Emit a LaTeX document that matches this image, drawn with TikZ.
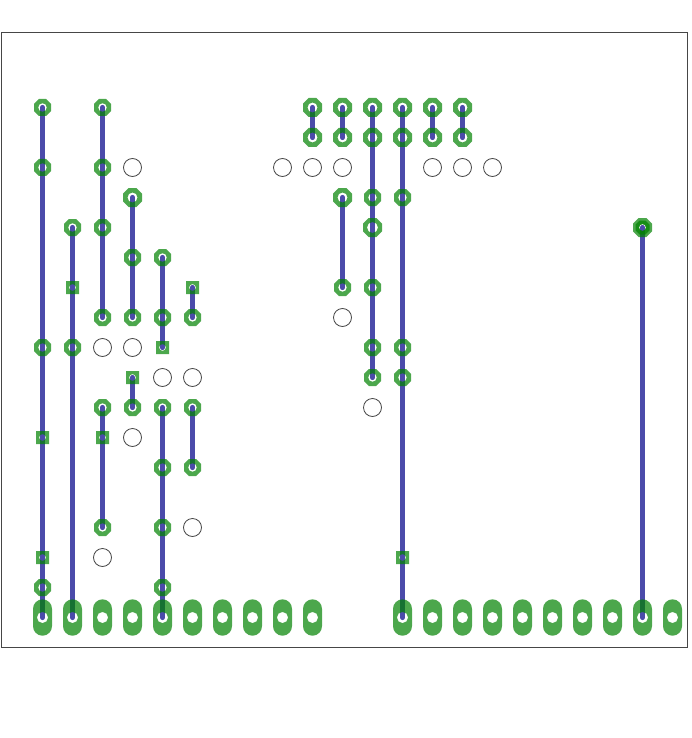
\documentclass[tikz,border=0pt]{standalone}
\definecolor{padgreen}{RGB}{0,130,0}
\definecolor{traceblue}{RGB}{75,75,170}
\definecolor{framegray}{RGB}{70,70,70}
\tikzset{
  x=1pt,y=-1pt,
  padfill/.style={fill=padgreen,fill opacity=.7,even odd rule,draw=none},
  trace/.style={draw=traceblue,line width=5.2pt,line cap=round},
  emptyhole/.style={draw=framegray,line width=.8pt,fill=none},
  frameline/.style={draw=framegray,line width=1pt}
}
% octagonal pad: x, y, across-flats half width, hole radius
\newcommand\octpad[4]{%
  \fill[padfill,shift={(#1,#2)}]
    (22.5:{#3*1.0824}) -- (67.5:{#3*1.0824}) -- (112.5:{#3*1.0824}) -- (157.5:{#3*1.0824})
    -- (202.5:{#3*1.0824}) -- (247.5:{#3*1.0824}) -- (292.5:{#3*1.0824}) -- (337.5:{#3*1.0824}) -- cycle
    (0,0) circle[radius=#4pt];}
\newcommand\sqpad[2]{%
  \fill[padfill,shift={(#1,#2)}] (-6.5,-6.5) rectangle (6.5,6.5) (0,0) circle[radius=3.4pt];}
\newcommand\longpad[2]{%
  \fill[padfill,shift={(#1,#2)}]
    (-9.5,-8.7) arc[start angle=180,end angle=0,radius=9.5pt]
    -- (9.5,8.7) arc[start angle=0,end angle=-180,radius=9.5pt] -- cycle
    (0,0) circle[radius=5.6pt];}
\newcommand\tracecol[3]{\coordinate (ta#1#2) at (#1,#2); \coordinate (tb#1#3) at (#1,#3); \draw[trace] (ta#1#2) -- (tb#1#3);}
\begin{document}
\begin{tikzpicture}
\useasboundingbox (0,0) rectangle (691,738);
\fill[white] (0,0) rectangle (691,738);
\begin{scope}[shift={(.5,.5)}]
\draw[frameline] (1,32) rectangle (687,647);
% traces
\tracecol{42}{107}{617}
\tracecol{72}{227}{617}
\tracecol{102}{107}{317}
\tracecol{102}{407}{527}
\tracecol{132}{197}{317}
\tracecol{132}{377}{407}
\tracecol{162}{257}{347}
\tracecol{162}{407}{617}
\tracecol{192}{287}{317}
\tracecol{192}{407}{467}
\tracecol{312}{107}{137}
\tracecol{342}{107}{137}
\tracecol{342}{197}{287}
\tracecol{372}{107}{377}
\tracecol{402}{107}{617}
\tracecol{432}{107}{137}
\tracecol{462}{107}{137}
\tracecol{642}{227}{617}
% empty holes
\foreach \x/\y in {132/167,282/167,312/167,342/167,432/167,462/167,492/167,342/317,102/347,132/347,162/377,192/377,372/407,132/437,192/527,102/557}
  \draw[emptyhole] (\x,\y) circle[radius=9pt];
% small octagonal pads
\foreach \x/\y in {42/107,102/107,42/167,102/167,72/227,102/227,132/257,162/257,102/317,132/317,162/317,192/317,42/347,72/347,102/407,132/407,162/407,192/407,162/467,192/467,102/527,162/527,42/587,162/587,372/197,402/197,372/347,402/347,342/287,372/287,372/377,402/377}
  \octpad{\x}{\y}{8.5}{4.3};
% larger octagonal pads
\foreach \x/\y in {312/107,342/107,372/107,402/107,432/107,462/107,312/137,342/137,372/137,402/137,432/137,462/137,132/197,342/197}
  \octpad{\x}{\y}{9.5}{5};
\octpad{372}{227}{9.5}{5.5}
\octpad{642}{227}{9.5}{3.5}
\octpad{642}{227}{7}{3.5}
% square pads
\foreach \x/\y in {72/287,192/287,162/347,132/377,42/437,102/437,42/557,402/557}
  \sqpad{\x}{\y};
% edge pads
\foreach \x in {42,72,...,312,402,432,...,672}
  \longpad{\x}{617};
\end{scope}
\end{tikzpicture}
\end{document}
